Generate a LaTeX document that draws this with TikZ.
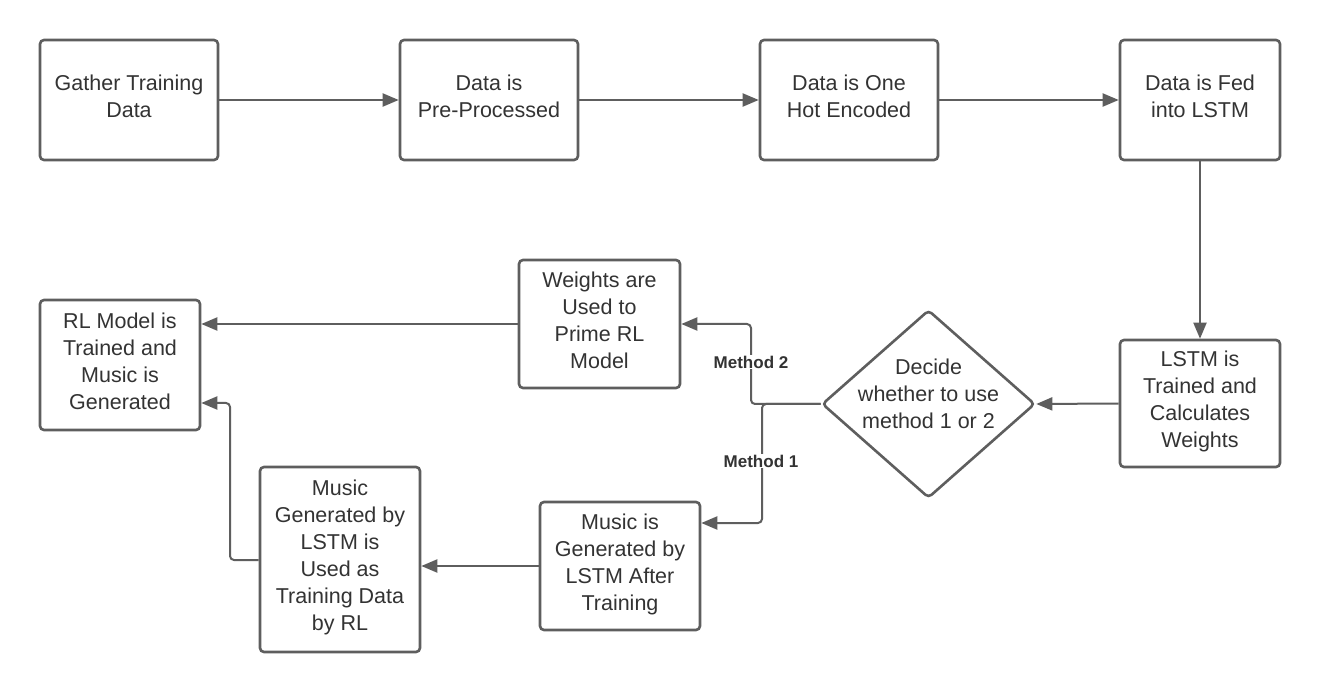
\documentclass[tikz,border=0pt]{standalone}
\usepackage{fontspec}
\setmainfont{Liberation Sans}
\usetikzlibrary{arrows.meta,shapes.geometric}
\definecolor{ln}{HTML}{5E5E5E}
\definecolor{tx}{HTML}{333333}
\begin{document}
\begin{tikzpicture}[x=1pt,y=-1pt,
  box/.style={draw=ln, line width=2.6pt, rounded corners=4pt, fill=white, text=tx,
    align=center, font=\fontsize{21.5}{27}\selectfont, inner sep=0pt,
    execute at begin node=\strut, execute at end node=\strut},
  conn/.style={draw=ln, line width=2pt, rounded corners=4pt,
    -{Triangle[length=16pt,width=13pt]}},
  lbl/.style={fill=white, text=tx, inner sep=1pt, font=\bfseries\fontsize{17}{20}\selectfont}]
\useasboundingbox (0,0) rectangle (1320,692);
\fill[white] (0,0) rectangle (1320,692);

\node[box, minimum width=178, minimum height=120] (g) at (129,100) {Gather Training\\Data};
\node[box, minimum width=178, minimum height=120] (p) at (489,100) {Data is\\Pre-Processed};
\node[box, minimum width=178, minimum height=120] (o) at (849,100) {Data is One\\Hot Encoded};
\node[box, minimum width=160, minimum height=120] (f) at (1200,100) {Data is Fed\\into LSTM};
\node[box, minimum width=160, minimum height=127] (l) at (1200,403.5) {LSTM is\\Trained and\\Calculates\\Weights};
\node[box, minimum width=161, minimum height=128] (w) at (599.5,324) {Weights are\\Used to\\Prime RL\\Model};
\node[box, minimum width=160, minimum height=130] (rl) at (120,365) {RL Model is\\Trained and\\Music is\\Generated};
\node[box, minimum width=160, minimum height=128] (mg) at (620,566) {Music is\\Generated by\\LSTM After\\Training};
\node[box, minimum width=160, minimum height=185] (mu) at (340,559.5) {Music\\Generated by\\LSTM is\\Used as\\Training Data\\by RL};
\node[diamond, draw=ln, line width=2.6pt, rounded corners=4pt, fill=white, text=tx,
  minimum width=213, minimum height=188, inner sep=0pt,
  font=\fontsize{21.5}{27}\selectfont] (d) at (928.5,404)
  {\raisebox{3pt}[0pt][0pt]{\makebox[0pt]{\begin{tabular}{@{}c@{}}Decide\\whether to use\\method 1 or 2\end{tabular}}}};

\coordinate (c2) at (751,404);
\coordinate (c1) at (762,404);
\coordinate (c1b) at (762,523);
\coordinate (c3) at (230,560);
\coordinate (c4) at (230,403);

\draw[conn] (g.east) -- (p.west);
\draw[conn] (p.east) -- (o.west);
\draw[conn] (o.east) -- (f.west);
\draw[conn] (f.south) -- (l.north);
\draw[conn] (l.west) -- (d.east);
\draw[conn] (d.west) -- (c2) |- (w.east);
\draw[conn] (d.west) -- (c1) -- (c1b) -- (c1b -| mg.east);
\draw[conn] (w.west) -- (w.west -| rl.east);
\draw[conn] (mg.west) -- (mg.west -| mu.east);
\draw[conn] (mu.west |- c3) -- (c3) -- (c4) -- (c4 -| rl.east);

\node[lbl] (m2) at (751,362) {Method 2};
\node[lbl] (m1) at (761,461) {Method 1};
\end{tikzpicture}
\end{document}
